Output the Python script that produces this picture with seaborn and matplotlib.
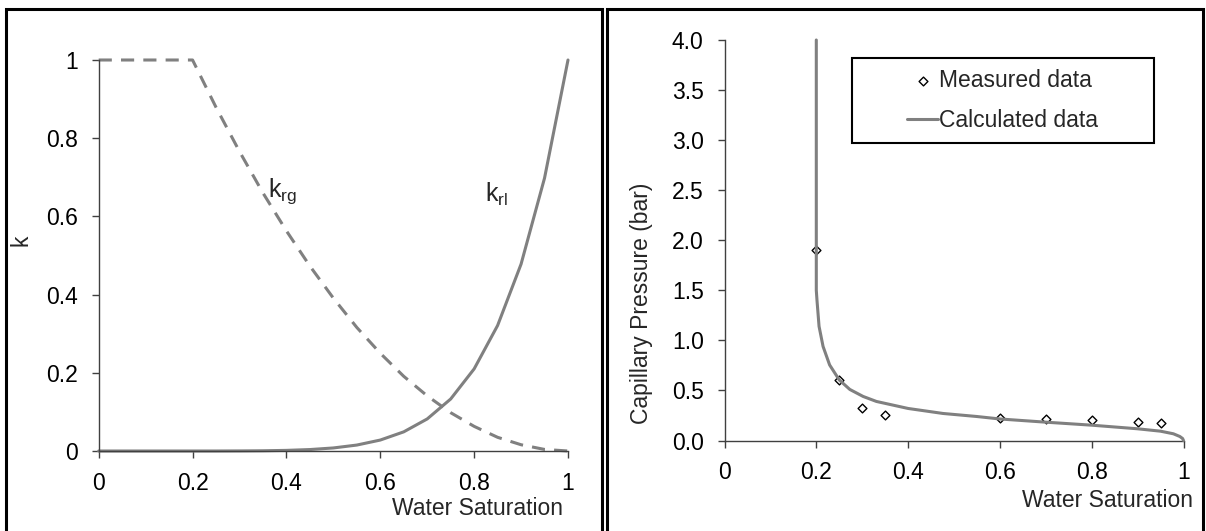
import matplotlib
matplotlib.use("Agg")
import matplotlib.pyplot as plt
from matplotlib.lines import Line2D
from matplotlib.patches import Rectangle
import seaborn as sns
import pandas as pd

# Relative permeability vs. water saturation
sw_k = [0.00, 0.05, 0.10, 0.15, 0.20, 0.25, 0.30, 0.35, 0.40, 0.45, 0.50,
        0.55, 0.60, 0.65, 0.70, 0.75, 0.80, 0.85, 0.90, 0.95, 1.00]
krg = [1.0, 1.0, 1.0, 1.0, 1.0, 0.879, 0.766, 0.660, 0.563, 0.473, 0.391,
       0.316, 0.250, 0.191, 0.141, 0.098, 0.063, 0.035, 0.016, 0.004, 0.0]
krl = [0.0, 0.0, 0.0, 0.0, 0.0, 0.0, 0.0002, 0.0006, 0.0016, 0.0037, 0.0078,
       0.0152, 0.028, 0.049, 0.082, 0.133, 0.210, 0.321, 0.478, 0.698, 1.0]

# Capillary pressure: measured points and fitted curve
sw_meas = [0.20, 0.25, 0.30, 0.35, 0.60, 0.70, 0.80, 0.90, 0.95]
pc_meas = [1.90, 0.60, 0.32, 0.25, 0.22, 0.21, 0.20, 0.18, 0.17]
sw_calc = [0.200, 0.200, 0.2015, 0.206, 0.2147, 0.229, 0.250, 0.273, 0.302,
           0.331, 0.400, 0.476, 0.549, 0.600, 0.700, 0.800, 0.900, 0.950,
           0.978, 0.992, 0.998, 1.000]
pc_calc = [4.00, 1.50, 1.40, 1.14, 0.94, 0.755, 0.605, 0.51, 0.44,
           0.39, 0.32, 0.27, 0.24, 0.215, 0.183, 0.153, 0.117, 0.093,
           0.067, 0.040, 0.020, 0.0]

x_ticks = [0, 0.2, 0.4, 0.6, 0.8, 1]
x_ticklabels = ["0", "0.2", "0.4", "0.6", "0.8", "1"]
k_ticks = [0, 0.2, 0.4, 0.6, 0.8, 1]
k_ticklabels = ["0", "0.2", "0.4", "0.6", "0.8", "1"]
pc_ticks = [0.0, 0.5, 1.0, 1.5, 2.0, 2.5, 3.0, 3.5, 4.0]
pc_ticklabels = ["0.0", "0.5", "1.0", "1.5", "2.0", "2.5", "3.0", "3.5", "4.0"]

sns.set_style("ticks")
plt.rcParams["font.family"] = ["Liberation Sans", "DejaVu Sans"]
plt.rcParams["mathtext.fontset"] = "custom"
plt.rcParams["mathtext.rm"] = "Liberation Sans"
plt.rcParams["mathtext.it"] = "Liberation Sans:italic"

FS = 16.5
GRAY = "#808080"
AXC = "#404040"
W, H = 1206, 531

fig = plt.figure(figsize=(W / 100, H / 100), dpi=100)


def fx(px):
    return px / W


def fy(py):
    return (H - py) / H


ax1 = fig.add_axes([fx(98.7), fy(451), fx(568) - fx(98.7), fy(60) - fy(451)])
ax2 = fig.add_axes([fx(724.5), fy(440.5), fx(1183.5) - fx(724.5), fy(40) - fy(440.5)])

df_k = pd.DataFrame({"sw": sw_k, "krg": krg, "krl": krl})
sns.lineplot(data=df_k, x="sw", y="krg", ax=ax1, color=GRAY, lw=2.2,
             dashes=False, estimator=None, sort=False, clip_on=False)
ax1.lines[-1].set_dashes((4.3, 3.0))
sns.lineplot(data=df_k, x="sw", y="krl", ax=ax1, color=GRAY, lw=2.2,
             estimator=None, sort=False, clip_on=False)

ax1.text(0.361, 0.65, r"k$_\mathrm{rg}$", fontsize=18, ha="left", va="baseline")
ax1.text(0.823, 0.637, r"k$_\mathrm{rl}$", fontsize=18, ha="left", va="baseline")

df_meas = pd.DataFrame({"sw": sw_meas, "pc": pc_meas})
df_calc = pd.DataFrame({"sw": sw_calc, "pc": pc_calc})
sns.scatterplot(data=df_meas, x="sw", y="pc", ax=ax2, marker="D", s=20,
                facecolor="white", edgecolor="black", linewidth=1.0,
                zorder=2, clip_on=False, label="Measured data", legend=False)
sns.lineplot(data=df_calc, x="sw", y="pc", ax=ax2, color=GRAY, lw=2.2,
             estimator=None, sort=False, clip_on=False, zorder=3,
             label="Calculated data", legend=False)

for ax in (ax1, ax2):
    ax.set_xlim(0, 1)
    ax.set_xticks(x_ticks)
    ax.set_xticklabels(x_ticklabels)
    for side in ("top", "right"):
        ax.spines[side].set_visible(False)
    for side in ("left", "bottom"):
        ax.spines[side].set_color(AXC)
        ax.spines[side].set_linewidth(1.0)
    ax.tick_params(direction="out", length=5, width=1.0, color=AXC,
                   labelsize=FS, labelcolor="black", pad=10)
    ax.set_facecolor("none")

ax1.set_ylim(0, 1)
ax1.set_yticks(k_ticks)
ax1.set_yticklabels(k_ticklabels)
ax2.set_ylim(0, 4)
ax2.set_yticks(pc_ticks)
ax2.set_yticklabels(pc_ticklabels)

ax1.set_ylabel("k", fontsize=FS)
ax1.yaxis.set_label_coords(-0.14, 0.54)
ax1.set_xlabel("Water Saturation", fontsize=FS, ha="right", va="center")
ax1.xaxis.set_label_coords(0.9885, -0.146)

ax2.set_ylabel("Capillary Pressure (bar)", fontsize=FS, va="center")
ax2.yaxis.set_label_coords(-0.18, 0.343)
ax2.set_xlabel("Water Saturation", fontsize=FS, ha="right", va="center")
ax2.xaxis.set_label_coords(1.0216, -0.151)

# Legend with a square black frame
box_l, box_t, box_r, box_b = 852, 58, 1153.5, 143
fig.add_artist(Rectangle((fx(box_l), fy(box_b)), fx(box_r) - fx(box_l),
                         fy(box_t) - fy(box_b), transform=fig.transFigure,
                         fill=False, edgecolor="black", lw=1.5))
ax2.legend(loc="center", bbox_to_anchor=(fx((box_l + box_r) / 2), fy((box_t + box_b) / 2)),
           bbox_transform=fig.transFigure, frameon=False, fontsize=FS,
           handlelength=1.35, handletextpad=0.05, labelspacing=0.75,
           borderpad=0.0)

# Panel frames
for xl, xr in ((5.5, 602.2), (607.2, 1203.2)):
    fig.add_artist(Line2D([fx(xl), fx(xl), fx(xr), fx(xr)],
                          [fy(545), fy(8.8), fy(8.8), fy(545)],
                          transform=fig.transFigure, color="black", lw=2.2,
                          solid_joinstyle="miter"))

fig.savefig("out.png", dpi=100)
